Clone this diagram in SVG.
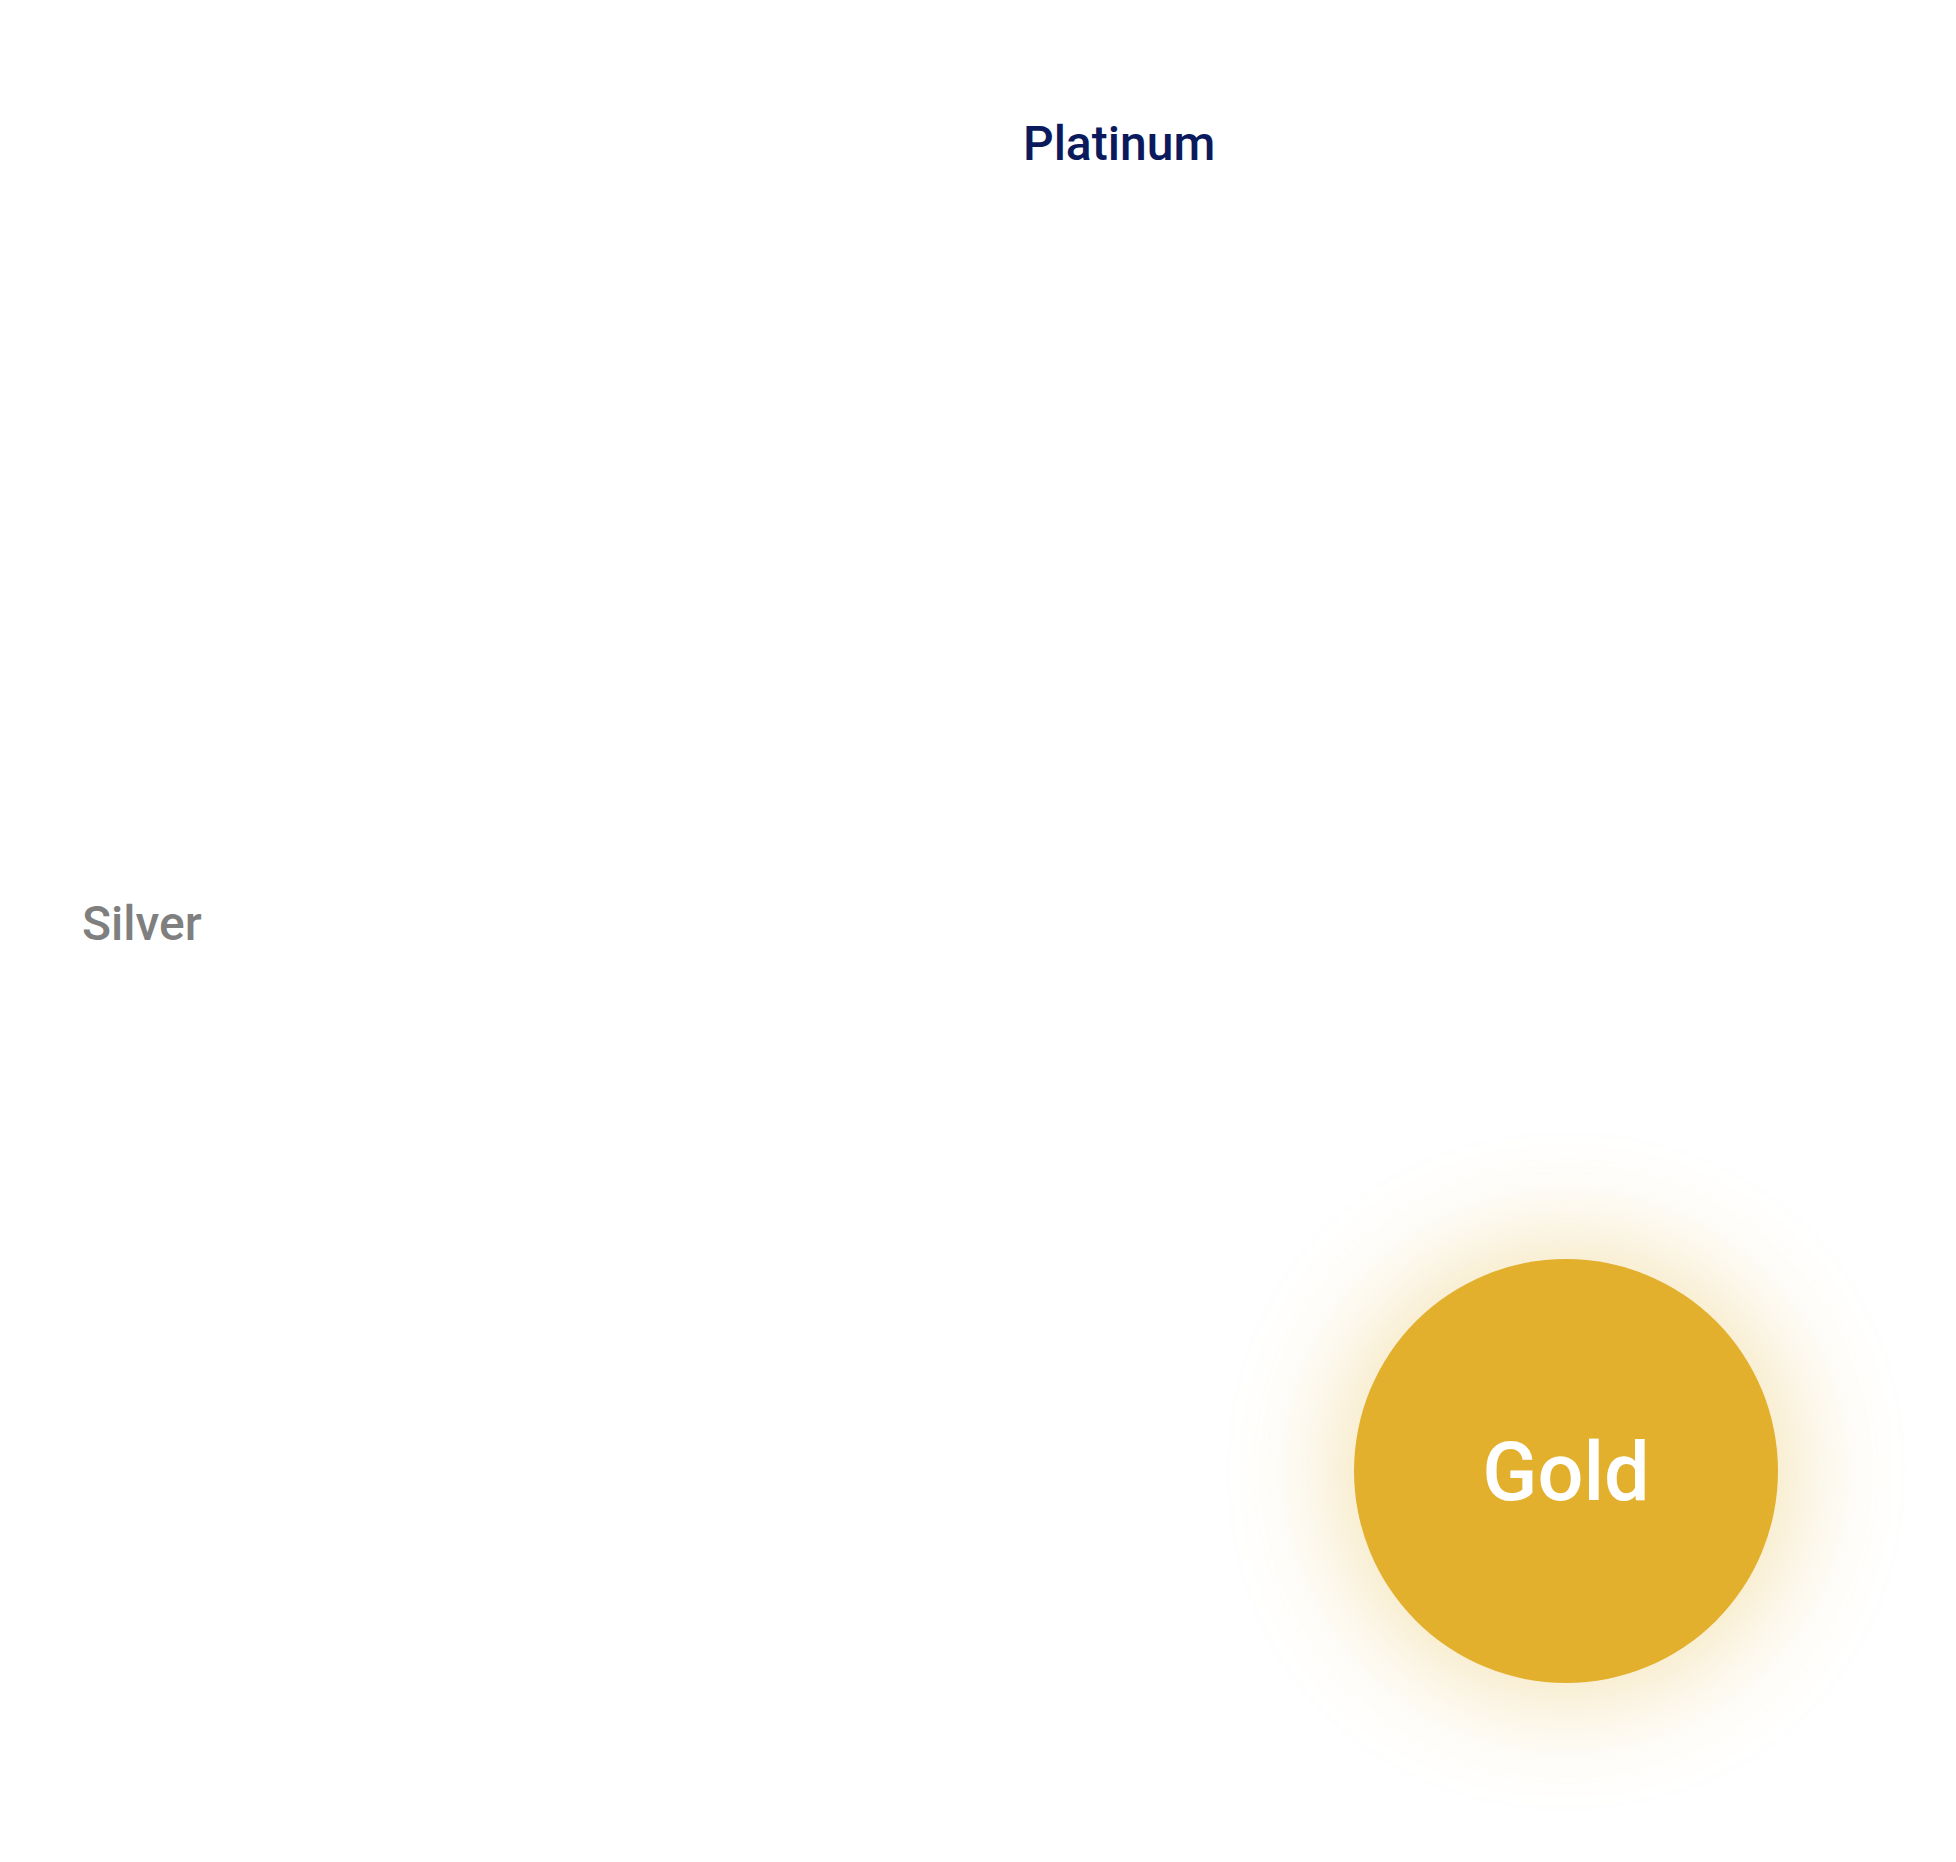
<svg xmlns="http://www.w3.org/2000/svg" width="1956" height="1862" viewBox="0 0 1956 1862">
  <style>
    .label { font-family: Roboto, "Liberation Sans", sans-serif; font-weight: 500; }
    .platinum { fill: #0b1a5c; font-size: 48px; }
    .silver { fill: #7f7f7f; font-size: 48px; }
    .gold-text { fill: #ffffff; font-size: 81px; text-anchor: middle; }
  </style>
  <defs>
    <filter id="glow" x="-100%" y="-100%" width="300%" height="300%">
      <feGaussianBlur stdDeviation="55"/>
    </filter>
  </defs>
  <rect width="1956" height="1862" fill="#ffffff"/>

  <g id="platinum">
    <text class="label platinum" x="1023" y="160">Platinum</text>
  </g>

  <g id="silver">
    <text class="label silver" x="82" y="940">Silver</text>
  </g>

  <g id="gold">
    <!-- soft halo behind the disc -->
    <circle cx="1566" cy="1471" r="230" fill="#e3b02e" opacity="0.35" filter="url(#glow)"/>
    <circle cx="1566" cy="1471" r="212" fill="#e3b02e"/>
    <text class="label gold-text" x="1566" y="1500">Gold</text>
  </g>

  <g id="connectors"></g>
</svg>
